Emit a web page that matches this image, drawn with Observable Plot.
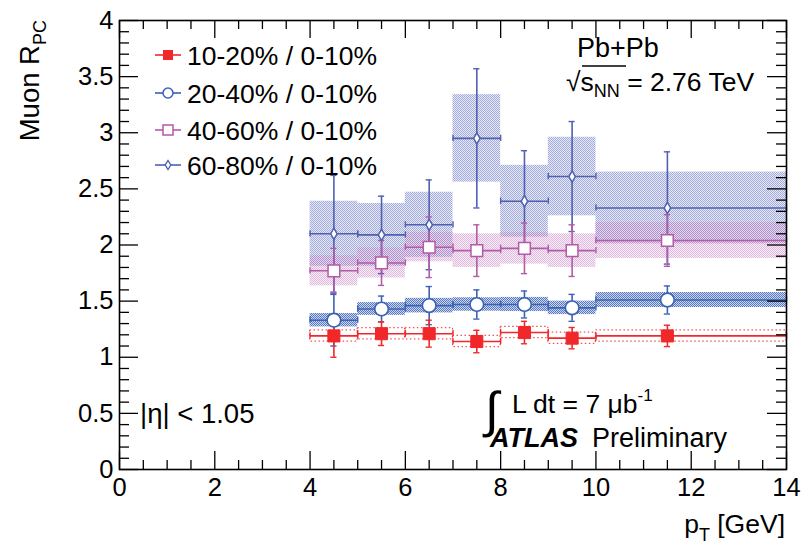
<!DOCTYPE html>
<html>
<head>
<meta charset="utf-8">
<script src="https://cdn.jsdelivr.net/npm/d3@7"></script>
<script src="https://cdn.jsdelivr.net/npm/@observablehq/plot@0.6"></script>
<style>
  html, body { margin: 0; padding: 0; background: #fff; }
  #chart { position: relative; width: 804px; height: 553px; }
  svg { font-family: "Liberation Sans", Arial, Helvetica, sans-serif; }
</style>
</head>
<body>
<div id="chart"></div>
<script>
// ---------- data ----------
const binLo = [4, 5, 6, 7, 8, 9, 10];
const binHi = [5, 6, 7, 8, 9, 10, 14];
const ptCenter = [4.5, 5.5, 6.5, 7.5, 8.5, 9.5, 11.5];

const seriesNames = ["10-20% / 0-10%", "20-40% / 0-10%", "40-60% / 0-10%", "60-80% / 0-10%"];

const rpc1020 = [1.19, 1.21, 1.21, 1.14, 1.22, 1.17, 1.19];
const stat1020 = [0.19, 0.105, 0.12, 0.10, 0.10, 0.095, 0.095];
const sys1020 = [0.05, 0.05, 0.05, 0.05, 0.05, 0.05, 0.05];

const rpc2040 = [1.33, 1.43, 1.46, 1.47, 1.47, 1.44, 1.51];
const stat2040 = [0.23, 0.115, 0.17, 0.13, 0.12, 0.12, 0.125];
const sys2040 = [0.06, 0.057, 0.065, 0.06, 0.063, 0.06, 0.067];

const rpc4060 = [1.77, 1.84, 1.98, 1.95, 1.97, 1.95, 2.04];
const stat4060 = [0.20, 0.20, 0.27, 0.23, 0.225, 0.23, 0.23];
const sys4060 = [0.134, 0.134, 0.13, 0.15, 0.14, 0.15, 0.16];

const rpc6080 = [2.10, 2.09, 2.18, 2.95, 2.39, 2.61, 2.33];
const stat6080 = [0.52, 0.345, 0.40, 0.62, 0.45, 0.49, 0.50];
const sys6080 = [0.29, 0.28, 0.29, 0.39, 0.32, 0.35, 0.32];

const xTickLabels = [0, 2, 4, 6, 8, 10, 12, 14];
const yTickLabels = [0, 0.5, 1, 1.5, 2, 2.5, 3, 3.5, 4];

// ---------- styles ----------
const colors = ["#f0282a", "#3b62b6", "#b45aaa", "#4f60b4"];
const patterns = ["url(#pRed)", "url(#pBlue)", "url(#pPink)", "url(#pLav)"];

function rows(vals, stat, sys, k) {
  return vals.map((v, i) => ({
    s: k, x: ptCenter[i], lo: binLo[i], hi: binHi[i], y: v,
    ylo: v - stat[i], yhi: v + stat[i], slo: v - sys[i], shi: v + sys[i]
  }));
}
const all = [
  rows(rpc1020, stat1020, sys1020, 0),
  rows(rpc2040, stat2040, sys2040, 1),
  rows(rpc4060, stat4060, sys4060, 2),
  rows(rpc6080, stat6080, sys6080, 3)
];

const W = 804, H = 553;
const mL = 119, mR = 18, mT = 20, mB = 84;
const plotW = W - mL - mR, plotH = H - mT - mB;

const majorX = d3.range(0, 14.001, 2);
const minorX = d3.range(0, 14.001, 0.5).filter(v => Math.abs(v / 2 - Math.round(v / 2)) > 1e-6);
const majorY = d3.range(0, 4.001, 0.5);
const minorY = d3.range(0, 4.001, 0.1).filter(v => Math.abs(v / 0.5 - Math.round(v / 0.5)) > 1e-6);

const markers = [];
// systematic boxes (drawn back-to-front: lavender, pink, blue, red)
for (const k of [3, 2, 1, 0]) {
  markers.push(Plot.rect(all[k], {
    x1: "lo", x2: "hi", y1: "slo", y2: "shi",
    fill: patterns[k],
    stroke: k === 0 ? colors[0] : "none",
    strokeDasharray: "1.5,2.5", strokeWidth: 1.2, strokeOpacity: 0.8
  }));
}
for (const k of [3, 2, 1, 0]) {
  const c = colors[k];
  markers.push(Plot.ruleY(all[k], {y: "y", x1: "lo", x2: "hi", stroke: c, strokeWidth: 1.6}));
  markers.push(Plot.ruleX(all[k], {x: "lo", y1: d => d.y - 0.028, y2: d => d.y + 0.028, stroke: c, strokeWidth: 1.4}));
  markers.push(Plot.ruleX(all[k], {x: "hi", y1: d => d.y - 0.028, y2: d => d.y + 0.028, stroke: c, strokeWidth: 1.4}));
  markers.push(Plot.ruleX(all[k], {x: "x", y1: "ylo", y2: "yhi", stroke: c, strokeWidth: 1.6}));
  markers.push(Plot.ruleY(all[k], {y: "ylo", x1: d => d.x - 0.065, x2: d => d.x + 0.065, stroke: c, strokeWidth: 1.4}));
  markers.push(Plot.ruleY(all[k], {y: "yhi", x1: d => d.x - 0.065, x2: d => d.x + 0.065, stroke: c, strokeWidth: 1.4}));
}
markers.push(Plot.dot(all[3], {x: "x", y: "y", symbol: "diamond", r: 3.4, stroke: colors[3], fill: "white", strokeWidth: 1.5}));
markers.push(Plot.dot(all[2], {x: "x", y: "y", symbol: "square", r: 6.6, stroke: colors[2], fill: "white", strokeWidth: 1.5}));
markers.push(Plot.dot(all[1], {x: "x", y: "y", symbol: "circle", r: 6.8, stroke: colors[1], fill: "white", strokeWidth: 1.6}));
markers.push(Plot.dot(all[0], {x: "x", y: "y", symbol: "square", r: 6.8, stroke: colors[0], fill: colors[0], strokeWidth: 1}));

const chart = Plot.plot({
  width: W, height: H,
  marginLeft: mL, marginRight: mR, marginTop: mT, marginBottom: mB,
  style: {fontFamily: "'Liberation Sans', Arial, Helvetica, sans-serif", fontSize: "26px", color: "#000", background: "#fff"},
  x: {domain: [0, 14]},
  y: {domain: [0, 4]},
  marks: [
    ...markers,
    Plot.tickX(majorX, {x: d => d, insetTop: plotH - 18, stroke: "#000", strokeWidth: 1.3}),
    Plot.tickX(minorX, {x: d => d, insetTop: plotH - 9, stroke: "#000", strokeWidth: 1.3}),
    Plot.tickX(majorX, {x: d => d, insetBottom: plotH - 18, stroke: "#000", strokeWidth: 1.3}),
    Plot.tickX(minorX, {x: d => d, insetBottom: plotH - 9, stroke: "#000", strokeWidth: 1.3}),
    Plot.tickY(majorY, {y: d => d, insetRight: plotW - 19, stroke: "#000", strokeWidth: 1.3}),
    Plot.tickY(minorY, {y: d => d, insetRight: plotW - 10, stroke: "#000", strokeWidth: 1.3}),
    Plot.tickY(majorY, {y: d => d, insetLeft: plotW - 19, stroke: "#000", strokeWidth: 1.3}),
    Plot.tickY(minorY, {y: d => d, insetLeft: plotW - 10, stroke: "#000", strokeWidth: 1.3}),
    Plot.axisX({ticks: xTickLabels, tickSize: 0, tickPadding: 8, tickFormat: d => String(d), label: null, fontSize: 25.5}),
    Plot.axisY({ticks: yTickLabels, tickSize: 0, tickPadding: 6, tickFormat: d => String(d), label: null, fontSize: 25.5}),
    Plot.frame({stroke: "#000", strokeWidth: 1.6})
  ]
});

document.getElementById("chart").appendChild(chart);

// ---------- patterns for systematic boxes ----------
const svg = d3.select(chart);
const defs = svg.insert("defs", ":first-child");
function pat(id, color, op, bg) {
  const size = 2;
  const p = defs.append("pattern").attr("id", id).attr("patternUnits", "userSpaceOnUse")
    .attr("width", size).attr("height", size);
  p.append("rect").attr("width", size).attr("height", size).attr("fill", color).attr("fill-opacity", bg);
  p.append("rect").attr("x", 0).attr("y", 0).attr("width", 1).attr("height", 1).attr("fill", color).attr("fill-opacity", op);
  p.append("rect").attr("x", 1).attr("y", 1).attr("width", 1).attr("height", 1).attr("fill", color).attr("fill-opacity", op);
}
pat("pRed", "#f03030", 0.0, 0.0);
pat("pBlue", "#3b62b6", 0.8, 0.25);
pat("pPink", "#c070b8", 0.4, 0.12);
pat("pLav", "#6070c0", 0.5, 0.15);

// ---------- text annotations ----------
const font = "'Liberation Sans', Arial, Helvetica, sans-serif";
function txt(x, y, size, anchor) {
  return svg.append("text").attr("x", x).attr("y", y).attr("font-size", size)
    .attr("text-anchor", anchor || "start").attr("font-family", font).attr("fill", "#000");
}

// legend
const legendY = [55, 93, 130, 165];
seriesNames.forEach((name, k) => {
  const g = svg.append("g");
  const y = legendY[k];
  g.append("line").attr("x1", 155).attr("x2", 181).attr("y1", y).attr("y2", y).attr("stroke", colors[k]).attr("stroke-width", 1.6);
  const cx = 168;
  if (k === 0) g.append("rect").attr("x", cx - 5).attr("y", y - 5).attr("width", 10).attr("height", 10).attr("fill", colors[0]);
  if (k === 1) g.append("circle").attr("cx", cx).attr("cy", y).attr("r", 5).attr("fill", "white").attr("stroke", colors[1]).attr("stroke-width", 1.5);
  if (k === 2) g.append("rect").attr("x", cx - 5).attr("y", y - 5).attr("width", 10).attr("height", 10).attr("fill", "white").attr("stroke", colors[2]).attr("stroke-width", 1.5);
  if (k === 3) g.append("path").attr("d", `M${cx},${y - 4.5}L${cx + 2.8},${y}L${cx},${y + 4.5}L${cx - 2.8},${y}Z`).attr("fill", "white").attr("stroke", colors[3]).attr("stroke-width", 1.4);
  txt(187, y + 9.5, 26.5).text(name);
});

// Pb+Pb, sqrt(s_NN)
txt(577, 57, 27).text("Pb+Pb");
const sq = txt(566, 91, 26.5);
sq.append("tspan").text("\u221A");
sq.append("tspan").text("s");
sq.append("tspan").attr("font-size", 18).attr("dy", 6).text("NN");
sq.append("tspan").attr("dy", -6).text(" = 2.76 TeV");
svg.append("line").attr("x1", 582).attr("x2", 626).attr("y1", 66).attr("y2", 66).attr("stroke", "#000").attr("stroke-width", 1.3);

// |eta| < 1.05
txt(140, 423, 27.5).text("|\u03B7| < 1.05");

// integral L dt
txt(485, 427, 50).text("\u222B");
const lt = txt(512, 413, 26.5);
lt.append("tspan").text("L dt = 7 \u03BCb");
lt.append("tspan").attr("font-size", 17).attr("dy", -12).text("-1");

// ATLAS Preliminary
txt(490, 447, 27).attr("font-weight", "bold").attr("font-style", "italic").text("ATLAS");
txt(592, 447, 27).text("Preliminary");

// axis titles
const xt = txt(785, 533, 26.5, "end");
xt.append("tspan").text("p");
xt.append("tspan").attr("font-size", 18).attr("dy", 8).text("T");
xt.append("tspan").attr("dy", -8).text(" [GeV]");

const yt = svg.append("text").attr("transform", "translate(39,20) rotate(-90)")
  .attr("text-anchor", "end").attr("font-size", 27.5).attr("font-family", font);
yt.append("tspan").text("Muon R");
yt.append("tspan").attr("font-size", 18).attr("dy", 7).text("PC");
</script>
</body>
</html>
